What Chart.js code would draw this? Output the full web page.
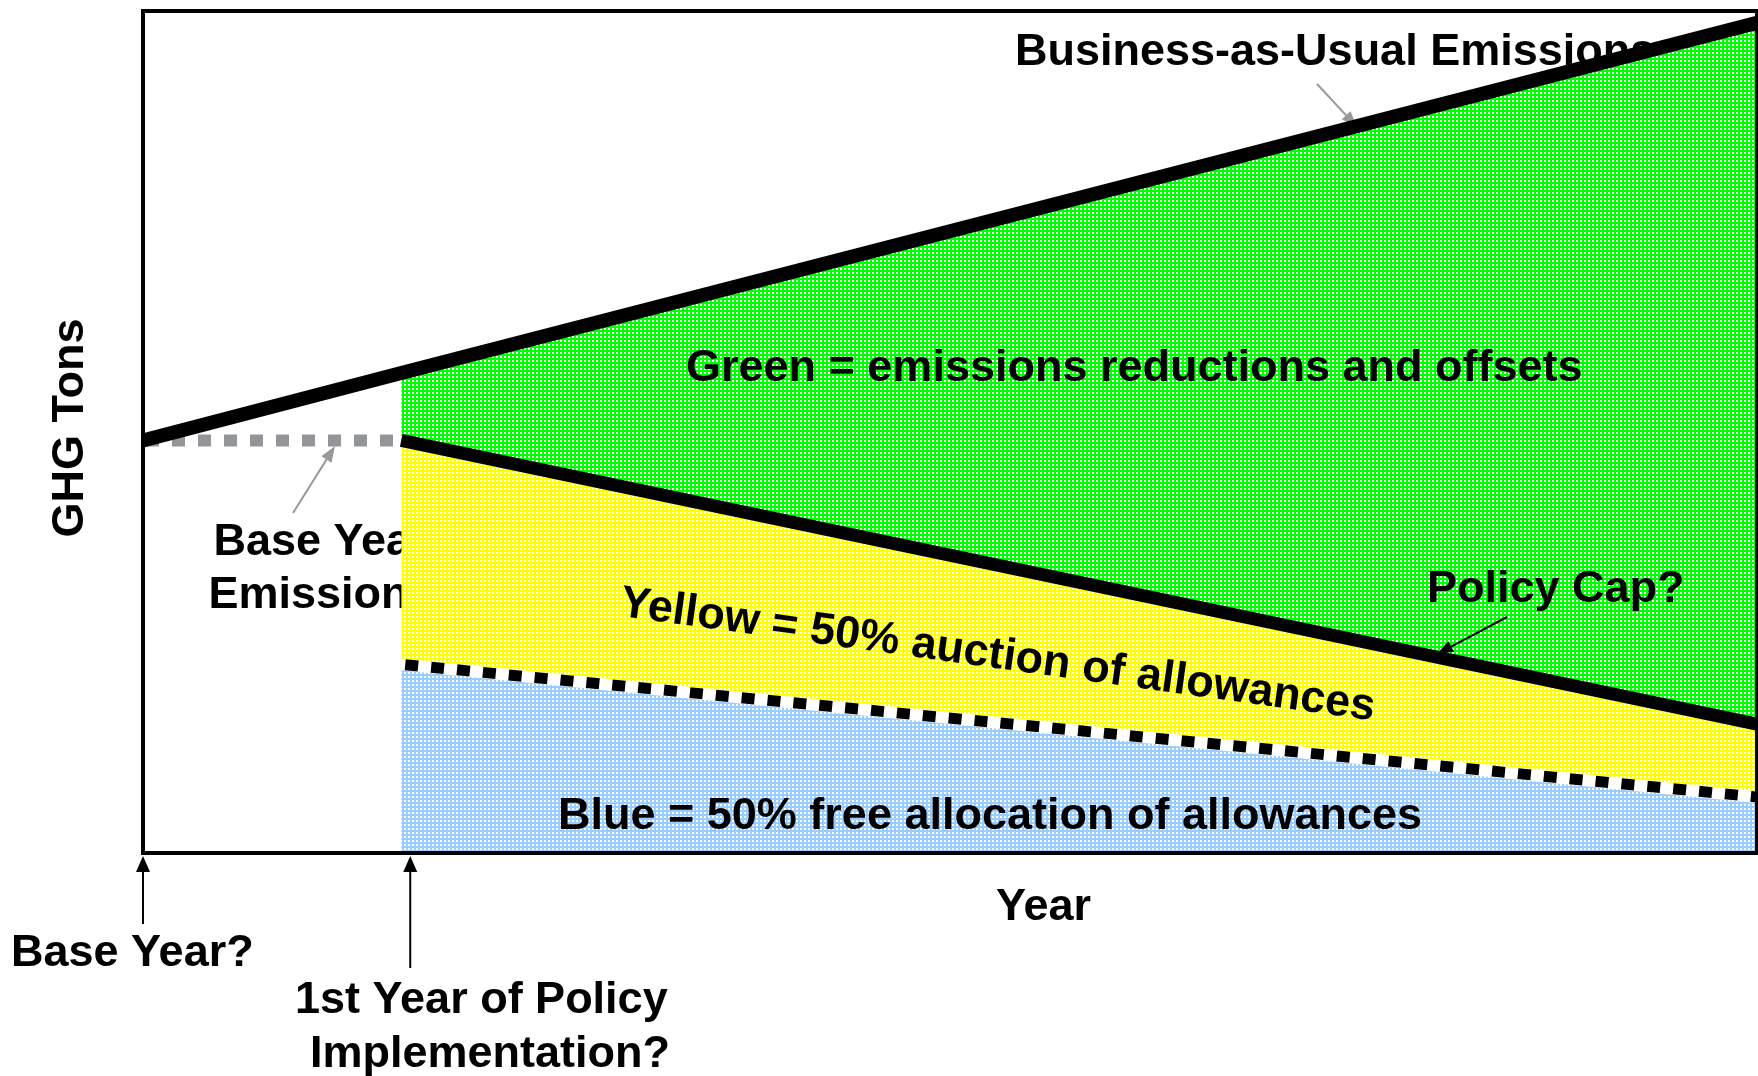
<!DOCTYPE html>
<html>
<head>
<meta charset="utf-8">
<script src="https://cdn.jsdelivr.net/npm/chart.js@4.4.1/dist/chart.umd.min.js"></script>
<style>
  html, body { margin: 0; padding: 0; background: #fff; }
  #wrap { width: 1758px; height: 1076px; }
</style>
</head>
<body>
<div id="wrap"><canvas id="c" width="1758" height="1076"></canvas></div>
<script>
// ---- Data (years since base year, GHG tons in relative units) ----
const xRange = [0, 25];
const yRange = [0, 100];
const bauYears = [0, 4, 25];
const bauTons = [49, 57, 98.6];
const baseLineYears = [0, 4];
const baseLineTons = [49, 49];
const policyYears = [4, 25];
const bauPolicyTons = [57, 98.6];
const capTons = [49, 15.3];
const freeTons = [22.4, 6.65];

function toXY(xs, ys) { return xs.map((x, i) => ({ x: x, y: ys[i] })); }

function checker(color) {
  const c = document.createElement('canvas');
  c.width = 4; c.height = 4;
  const g = c.getContext('2d');
  g.fillStyle = color; g.fillRect(0, 0, 4, 4);
  g.fillStyle = '#ffffff';
  g.fillRect(0, 0, 2, 2);
  return g.createPattern(c, 'repeat');
}
const ctx0 = document.getElementById('c').getContext('2d');
const greenPat = checker('#00ff00');
const yellowPat = checker('#ffff00');
const bluePat = checker('#99ccff');

const FONT = 'bold 45px "Liberation Sans", Arial, sans-serif';

function arrow(ctx, x1, y1, x2, y2, color, lw, hl, hw) {
  const a = Math.atan2(y2 - y1, x2 - x1);
  ctx.save();
  ctx.strokeStyle = color; ctx.fillStyle = color; ctx.lineWidth = lw;
  ctx.beginPath();
  ctx.moveTo(x1, y1);
  ctx.lineTo(x2 - Math.cos(a) * hl * 0.8, y2 - Math.sin(a) * hl * 0.8);
  ctx.stroke();
  ctx.translate(x2, y2); ctx.rotate(a);
  ctx.beginPath();
  ctx.moveTo(0, 0); ctx.lineTo(-hl, -hw / 2); ctx.lineTo(-hl, hw / 2); ctx.closePath();
  ctx.fill();
  ctx.restore();
}

function txt(ctx, s, x, y, align) {
  ctx.textAlign = align || 'left';
  ctx.fillText(s, x, y);
}

const labelsPlugin = {
  id: 'labels',
  beforeDatasetsDraw(chart) {
    const ctx = chart.ctx;
    ctx.save();
    ctx.font = FONT; ctx.fillStyle = '#000'; ctx.textBaseline = 'alphabetic';
    txt(ctx, 'Business-as-Usual Emissions', 1015, 65);
    txt(ctx, 'Base Year', 321, 555, 'center');
    txt(ctx, 'Emissions', 321, 608, 'center');
    ctx.restore();
    arrow(ctx, 1317, 84, 1357, 127, '#999999', 2, 16, 12);
    arrow(ctx, 293, 513, 335, 446, '#999999', 2, 16, 12);
  },
  afterDatasetsDraw(chart) {
    const ctx = chart.ctx;
    const a = chart.chartArea;
    ctx.save();
    ctx.strokeStyle = '#000'; ctx.lineWidth = 4;
    ctx.strokeRect(a.left, a.top, a.right - a.left, a.bottom - a.top);
    ctx.font = FONT; ctx.fillStyle = '#000'; ctx.textBaseline = 'alphabetic';
    txt(ctx, 'Green = emissions reductions and offsets', 686, 381);
    txt(ctx, 'Policy Cap?', 1427, 602);
    txt(ctx, 'Blue = 50% free allocation of allowances', 558, 829);
    txt(ctx, 'Year', 996, 920);
    ctx.save();
    ctx.translate(83, 428); ctx.rotate(-Math.PI / 2);
    txt(ctx, 'GHG Tons', 0, 0, 'center');
    ctx.restore();
    ctx.save();
    ctx.translate(996, 668); ctx.rotate(7.9 * Math.PI / 180);
    txt(ctx, 'Yellow = 50% auction of allowances', 0, 0, 'center');
    ctx.restore();
    txt(ctx, 'Base Year?', 11, 966);
    txt(ctx, '1st Year of Policy', 295, 1013);
    txt(ctx, 'Implementation?', 310, 1067);
    ctx.restore();
    arrow(ctx, 1507, 617, 1437, 654, '#000', 2, 16, 12);
    const xs = chart.scales.x;
    arrow(ctx, xs.getPixelForValue(bauYears[0]), 924, xs.getPixelForValue(bauYears[0]), 856, '#000', 2, 16, 14);
    arrow(ctx, xs.getPixelForValue(policyYears[0]) + 9, 968, xs.getPixelForValue(policyYears[0]) + 9, 856, '#000', 2, 16, 14);
  }
};

const noLine = 'rgba(0,0,0,0)';
new Chart(ctx0, {
  type: 'line',
  data: {
    datasets: [
      { label: 'Business-as-Usual Emissions', data: toXY(bauYears, bauTons), borderColor: '#000', borderWidth: 14, fill: false, order: 0, borderCapStyle: 'butt' },
      { label: 'Policy Cap', data: toXY(policyYears, capTons), borderColor: '#000', borderWidth: 13, fill: false, order: 1, borderCapStyle: 'butt' },
      { label: 'Free allocation', data: toXY(policyYears, freeTons), borderColor: '#000', borderWidth: 11, borderDash: [13, 13], borderDashOffset: -4, fill: false, order: 2, borderCapStyle: 'butt' },
      { label: 'Free allocation underlay', data: toXY(policyYears, freeTons), borderColor: '#fff', borderWidth: 12, fill: false, order: 3, borderCapStyle: 'butt' },
      { label: 'Base Year Emissions', data: toXY(baseLineYears, baseLineTons), borderColor: '#939598', borderWidth: 12, borderDash: [13, 13], borderDashOffset: -3, fill: false, order: 4, borderCapStyle: 'butt' },
      { label: 'Green fill', data: toXY(policyYears, bauPolicyTons), borderColor: noLine, borderWidth: 0, backgroundColor: greenPat, fill: 6, order: 10 },
      { label: 'Yellow fill', data: toXY(policyYears, capTons), borderColor: noLine, borderWidth: 0, backgroundColor: yellowPat, fill: 7, order: 11 },
      { label: 'Blue fill', data: toXY(policyYears, freeTons), borderColor: noLine, borderWidth: 0, backgroundColor: bluePat, fill: 'origin', order: 12 }
    ]
  },
  options: {
    responsive: false,
    animation: false,
    devicePixelRatio: 1,
    layout: { padding: { left: 143, top: 11, right: 1, bottom: 223 } },
    elements: { point: { radius: 0, hoverRadius: 0 }, line: { tension: 0 } },
    plugins: { legend: { display: false }, tooltip: { enabled: false }, filler: { propagate: false } },
    scales: {
      x: { type: 'linear', min: xRange[0], max: xRange[1], display: false },
      y: { type: 'linear', min: yRange[0], max: yRange[1], display: false }
    }
  },
  plugins: [labelsPlugin]
});
</script>
</body>
</html>
